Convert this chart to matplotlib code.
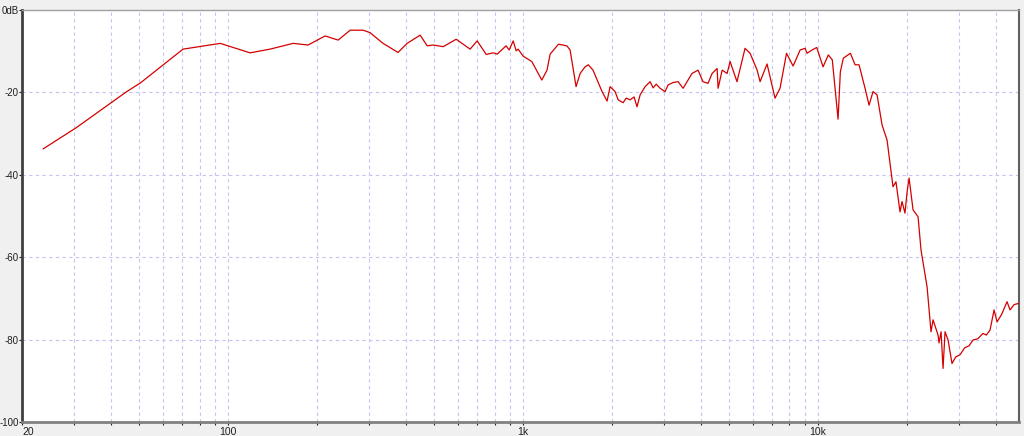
import matplotlib
matplotlib.use("Agg")
import matplotlib.pyplot as plt
from matplotlib.ticker import FixedLocator, NullFormatter

# Frequency response (Hz, dB)
freq_hz = [23.6, 30.5, 45.1, 50.4, 70.3, 94.0, 118.7, 138.7, 166.0, 186.6,
           213.2, 236.0, 259.2, 286.8, 302.8, 335.0, 376.6, 404.4, 447.6, 473.0,
           495.5, 535.8, 593.0, 661.1, 698.5, 749.9, 791.2, 816.9, 875.5, 896.8,
           925.4, 947.1, 962.0, 1000, 1070, 1157, 1205, 1235, 1318, 1407,
           1443, 1512, 1561, 1622, 1664, 1726, 1852, 1926, 1972, 2050,
           2100, 2183, 2235, 2306, 2378, 2433, 2493, 2592, 2695, 2760,
           2826, 2913, 3028, 3101, 3225, 3353, 3487, 3738, 3918, 4073,
           4235, 4373, 4547, 4582, 4730, 4916, 5032, 5150, 5310, 5655,
           5882, 6214, 6360, 6715, 7146, 7431, 7818, 8229, 8694, 9036,
           9178, 9545, 9899, 10397, 10832, 11175, 11690, 11900, 12180, 12870,
           13350, 13770, 14430, 14890, 15360, 15850, 16480, 17140, 17950, 18370,
           18960, 19260, 19710, 20040, 20350, 20990, 21830, 22340, 23420, 24150,
           24540, 25510, 25710, 26120, 26530, 26950, 27590, 28450, 29300, 30270,
           31400, 32500, 33530, 34800, 36230, 37200, 38280, 39510, 40450, 41900,
           43720, 44760, 46200, 47970]
level_db = [-33.7, -28.6, -19.9, -17.7, -9.5, -8.1, -10.4, -9.5, -8.1, -8.5,
            -6.3, -7.3, -4.9, -4.9, -5.5, -8.1, -10.3, -8.1, -6.1, -8.7,
            -8.5, -8.9, -7.1, -9.5, -7.5, -10.8, -10.4, -10.7, -8.7, -9.7,
            -7.5, -9.9, -9.5, -11.2, -12.5, -17.0, -14.6, -10.7, -8.3, -8.7,
            -9.7, -18.6, -15.4, -13.8, -13.3, -14.6, -19.8, -22.1, -18.6, -19.8,
            -21.8, -22.5, -21.4, -21.8, -21.1, -23.5, -20.6, -18.6, -17.4, -18.9,
            -18.0, -19.0, -19.8, -18.2, -17.6, -17.4, -19.0, -15.4, -14.6, -17.4,
            -17.8, -15.4, -14.2, -19.0, -14.6, -15.4, -12.5, -14.6, -17.4, -9.3,
            -10.5, -14.6, -17.4, -13.1, -21.4, -19.0, -10.5, -13.6, -9.7, -9.3,
            -10.5, -9.7, -9.1, -13.8, -10.9, -12.1, -26.5, -15.0, -11.7, -10.5,
            -13.3, -13.3, -19.0, -23.1, -19.8, -20.6, -27.9, -31.6, -42.9, -41.7,
            -49.0, -46.5, -49.3, -44.1, -40.8, -48.5, -50.2, -58.3, -67.2, -78.1,
            -75.2, -78.9, -80.8, -78.1, -87.0, -78.1, -80.1, -85.8, -84.2, -83.7,
            -82.0, -81.5, -80.1, -79.8, -78.5, -78.9, -77.7, -72.8, -75.7, -73.9,
            -70.8, -72.8, -71.5, -71.2]

y_ticks = [0, -20, -40, -60, -80, -100]
y_tick_labels = ["0dB", "-20", "-40", "-60", "-80", "-100"]
x_major = [20, 100, 1000, 10000]
x_major_labels = ["20", "100", "1k", "10k"]

plt.rcParams["font.family"] = ["Liberation Sans", "DejaVu Sans"]

bg = "#f0f0f0"
fig = plt.figure(figsize=(10.24, 4.36), dpi=100, facecolor=bg)
ax = fig.add_axes([22/1024, 14/436, 997/1024, 412/436])
ax.set_facecolor("white")

ax.set_xscale("log")
ax.set_xlim(20, 48000)
ax.set_ylim(-100, 0)

# grid lines
grid_x = [m * 10**e for e in range(1, 5) for m in range(1, 10)]
grid_x = [g for g in grid_x if 20 < g < 48000]
for g in grid_x:
    ax.axvline(g, color="#c4c4f4", lw=0.8, ls=(0, (3, 3)), zorder=1)
for g in y_ticks[1:-1]:
    ax.axhline(g, color="#c4c4f4", lw=0.8, ls=(0, (3, 3)), zorder=1)

ax.plot(freq_hz, level_db, color="#d40000", lw=0.9, zorder=3)

ax.xaxis.set_major_locator(FixedLocator(x_major))
ax.xaxis.set_minor_locator(FixedLocator(grid_x))
ax.xaxis.set_minor_formatter(NullFormatter())
ax.set_xticklabels(x_major_labels, fontsize=7.5, color="#202020")
for lbl in ax.get_xticklabels():
    if lbl.get_text() == "20":
        lbl.set_ha("left")
ax.set_yticks(y_ticks)
ax.set_yticklabels(y_tick_labels, fontsize=7, color="#202020")
ax.tick_params(axis="x", which="both", length=2.5, width=0.8, color="#202020", pad=1)
ax.tick_params(axis="y", length=2, width=0.8, color="#202020", pad=0.5)

ax.spines["left"].set_color("#404040")
ax.spines["left"].set_linewidth(2)
ax.spines["bottom"].set_color("#808080")
ax.spines["bottom"].set_linewidth(2)
ax.spines["top"].set_color("#a0a0a0")
ax.spines["top"].set_linewidth(1)
ax.spines["right"].set_color("#606060")
ax.spines["right"].set_linewidth(1.5)

fig.savefig("out.png", dpi=100, facecolor=bg)
